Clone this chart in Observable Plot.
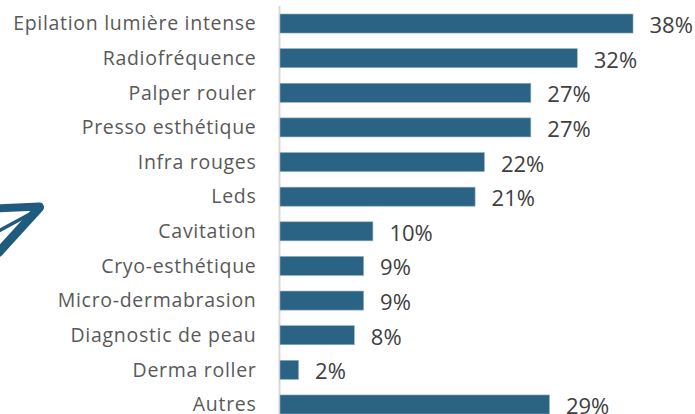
<!DOCTYPE html>
<html><head><meta charset="utf-8">
<script src="https://cdn.jsdelivr.net/npm/d3@7"></script>
<script src="https://cdn.jsdelivr.net/npm/@observablehq/plot@0.6"></script>
<style>
html,body{margin:0;padding:0;background:#fff;overflow:hidden}
#c{position:relative;width:695px;height:414px}
#c svg{position:absolute;left:0;top:0;background:transparent}
#c g[aria-label="y-axis tick label"] text{letter-spacing:0.7px}
</style></head><body><div id="c"></div>
<script>
const categories=["Epilation lumière intense","Radiofréquence","Palper rouler","Presso esthétique","Infra rouges","Leds","Cavitation","Cryo-esthétique","Micro-dermabrasion","Diagnostic de peau","Derma roller","Autres"];
const values=[38,32,27,27,22,21,10,9,9,8,2,29];
const barColor="#2b6384";
const table=categories.map((c,i)=>({c,v:values[i]}));
const planeStrokes=[
 {w:8,pts:[[-5,208],[39,206]]},
 {w:9,pts:[[39,207],[-2,252]]},
 {w:3.5,pts:[[36,210],[-3,231]]}
];
const chart=Plot.plot({
 width:695,height:414,marginLeft:280,marginRight:0,marginTop:0,marginBottom:0,
 style:{fontFamily:"'Open Sans',sans-serif",background:"transparent"},
 x:{domain:[0,415/9.29],range:[280,695],axis:null},
 y:{domain:categories,range:[14,414],round:false,paddingInner:0.45,paddingOuter:0,align:0,axis:null},
 marks:[
  Plot.ruleX([0],{insetTop:6,dx:-1,stroke:"#d9d9d9",strokeWidth:2}),
  Plot.barX(table,{x:"v",y:"c",fill:barColor,stroke:"#8fb0c4",strokeWidth:0.6}),
  Plot.axisY({anchor:"left",tickSize:0,tickPadding:24,fontSize:19.5,color:"#595959",label:null}),
  Plot.text(table,{x:"v",y:"c",text:d=>d.v+"%",textAnchor:"start",dx:16,dy:2,fontSize:22,fill:"#404040"})
 ]
});
document.getElementById("c").appendChild(chart);
const planeData=planeStrokes.flatMap((s,i)=>s.pts.map(p=>({x:p[0],y:p[1],i,w:s.w})));
const plane=Plot.plot({
 width:695,height:414,margin:0,
 style:{background:"transparent"},
 x:{domain:[0,695],range:[0,695],axis:null},
 y:{domain:[0,414],range:[0,414],axis:null},
 marks:planeStrokes.map((s,i)=>Plot.line(planeData.filter(d=>d.i===i),{x:"x",y:"y",stroke:"#1f5b7e",strokeWidth:s.w,strokeLinecap:"round"}))
});
document.getElementById("c").appendChild(plane);
</script></body></html>
